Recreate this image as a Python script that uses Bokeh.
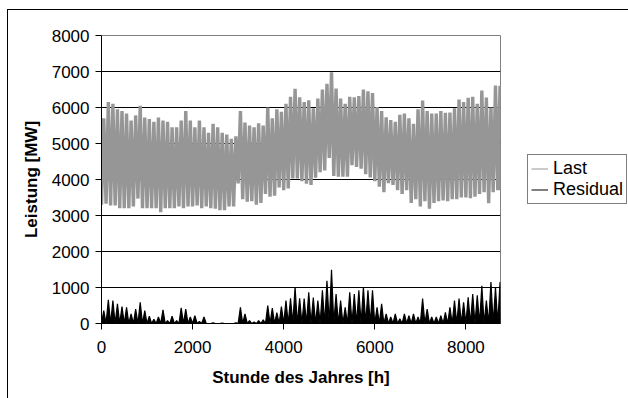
from bokeh.plotting import figure
from bokeh.models import Legend, LegendItem, FixedTicker, Range1d
from bokeh.embed import file_html
from bokeh.resources import INLINE

# ---- data (per 100-hour block: trough / peak) ----
block_start = list(range(0, 8800, 100))

last_peak = [5700, 6150, 6100, 5950, 5900, 5830, 5640, 5780, 6050, 5720,
             5680, 5600, 5720, 5640, 5600, 5450, 5450, 5640, 5900, 5640,
             5450, 5640, 5450, 5300, 5550, 5450, 5300, 5250, 5130, 5200,
             5900, 5580, 5500, 5450, 5560, 5500, 6000, 5700, 5950, 5880,
             6100, 6300, 6520, 6280, 6150, 6200, 5980, 6250, 6500, 6660,
             6980, 6530, 6250, 6100, 6300, 6280, 6320, 6500, 6450, 6400,
             6010, 5900, 5730, 5650, 5600, 5800, 5830, 5700, 5550, 5950,
             6190, 5900, 5830, 5830, 5900, 5850, 5860, 5980, 6220, 6150,
             6270, 6300, 6100, 6470, 6280, 6000, 6610, 6600]

last_trough = [3300, 3330, 3280, 3280, 3200, 3200, 3200, 3250, 3470, 3200,
               3200, 3200, 3200, 3090, 3200, 3200, 3200, 3250, 3200, 3250,
               3250, 3280, 3200, 3250, 3200, 3190, 3150, 3150, 3250, 3250,
               3890, 3450, 3380, 3400, 3300, 3350, 3600, 3520, 3550, 3780,
               3700, 3750, 4030, 4030, 3950, 3880, 3850, 4050, 4200, 4250,
               4600, 4100, 4080, 4080, 4080, 4400, 4350, 4300, 4150, 4060,
               3950, 3800, 3650, 3900, 3850, 3700, 3600, 3700, 3350, 3450,
               3250, 3400, 3190, 3350, 3400, 3420, 3400, 3450, 3450, 3500,
               3500, 3480, 3520, 3600, 3650, 3340, 3650, 3700]

residual_peak = [360, 660, 640, 550, 470, 450, 270, 400, 590, 360,
                 200, 120, 180, 380, 80, 200, 80, 435, 400, 180,
                 220, 60, 180, 0, 20, 0, 10, 0, 0, 20,
                 450, 270, 80, 40, 80, 100, 500, 430, 300, 470,
                 640, 700, 1010, 700, 690, 870, 720, 640, 920, 1190,
                 1490, 820, 640, 450, 870, 820, 920, 1010, 920, 920,
                 450, 550, 270, 180, 270, 130, 270, 220, 270, 180,
                 690, 400, 180, 180, 220, 310, 450, 640, 690, 590,
                 730, 820, 780, 1050, 640, 1150, 1010, 1150]

residual_trough = [0] * len(block_start)

x_ticks = [0, 2000, 4000, 6000, 8000]
y_ticks = [0, 1000, 2000, 3000, 4000, 5000, 6000, 7000, 8000]
last_hour = 8759


def zigzag(starts, lows, highs, end):
    xs, ys = [], []
    for h, lo, hi in zip(starts, lows, highs):
        xs += [h, h + 50]
        ys += [lo, hi]
    xs.append(end)
    ys.append(lows[-1])
    return xs, ys


lx, ly = zigzag(block_start, last_trough, last_peak, last_hour)
rx, ry = zigzag(block_start, residual_trough, residual_peak, last_hour)

FONT = "Liberation Sans"
GRAY = "#969696"
NAN = float("nan")

p = figure(output_backend="svg", toolbar_location=None,
           frame_width=399, frame_height=288,
           min_border_left=93, min_border_right=128,
           min_border_top=25, min_border_bottom=75,
           x_range=Range1d(0, 8760), y_range=Range1d(0, 8000),
           background_fill_color="white", border_fill_color="white")
p.styles = {"margin-left": "7px", "margin-top": "9px",
            "border-left": "1px solid #000", "border-top": "1px solid #000"}

p.outline_line_color = "#808080"
p.xgrid.visible = False
p.ygrid.ticker = FixedTicker(ticks=y_ticks)
p.ygrid.grid_line_color = "black"
p.ygrid.grid_line_width = 1

p.xaxis.ticker = FixedTicker(ticks=x_ticks)
p.yaxis.ticker = FixedTicker(ticks=y_ticks)
for ax in (p.xaxis, p.yaxis):
    ax.minor_tick_line_color = None
    ax.major_tick_in = 0
    ax.major_tick_out = 6
    ax.axis_line_color = "black"
    ax.major_tick_line_color = "black"
    ax.major_label_text_font = FONT
    ax.major_label_text_font_size = "17px"
    ax.major_label_text_color = "black"
    ax.axis_label_text_font = FONT
    ax.axis_label_text_font_size = "17px"
    ax.axis_label_text_font_style = "bold"
    ax.axis_label_text_color = "black"

p.xaxis.axis_label = "Stunde des Jahres [h]"
p.yaxis.axis_label = "Leistung [MW]"
p.xaxis.major_label_standoff = 11
p.yaxis.major_label_standoff = 6
p.xaxis.axis_label_standoff = 12
p.yaxis.axis_label_standoff = 8

p.line(lx, ly, line_color=GRAY, line_width=3.4, line_join="bevel")
p.varea(x=rx, y1=0, y2=ry, fill_color="black")
p.line(rx, ry, line_color="black", line_width=1.2)

# thin proxies for the legend swatches (no visible data)
leg_last = p.line(x=[NAN], y=[NAN], line_color=GRAY, line_width=1)
leg_res = p.line(x=[NAN], y=[NAN], line_color="black", line_width=1)

legend = Legend(items=[LegendItem(label="Last", renderers=[leg_last], index=0),
                       LegendItem(label="Residual", renderers=[leg_res], index=0)],
                location=(27, 119))
legend.border_line_color = "black"
legend.border_line_width = 1
legend.background_fill_color = "white"
legend.padding = 3
legend.spacing = 0
legend.margin = 0
legend.glyph_width = 17
legend.glyph_height = 19
legend.label_height = 19
legend.label_standoff = 5
legend.label_text_font = FONT
legend.label_text_font_size = "18px"
legend.label_text_color = "black"
p.add_layout(legend, "right")

open("out.html", "w").write(file_html(p, INLINE))
